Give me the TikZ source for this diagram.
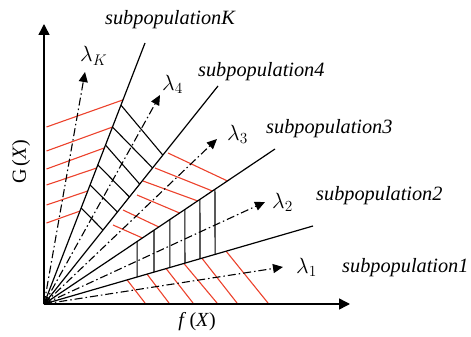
\RequirePackage{fix-cm}
\documentclass[tikz,border=0pt]{standalone}
\usepackage{fontspec}
\setmainfont{Liberation Serif}
\usetikzlibrary{arrows.meta,calc}
\definecolor{hred}{RGB}{236,66,44}
\begin{document}
\begin{tikzpicture}[x=1pt,y=-1pt,
  axis/.style={line width=1.5pt,-{Triangle[length=11pt,width=11pt]}},
  bound/.style={line width=1.2pt},
  hatchred/.style={hred,line width=1.1pt},
  hatchblk/.style={black,line width=1.1pt},
  dashdot/.style={line width=1.1pt,dash pattern=on 8pt off 3pt on 1.5pt off 3pt,-{Triangle[length=10pt,width=9pt]}},
  lab/.style={anchor=base west,inner sep=0pt,font=\fontsize{20.3}{24}\selectfont\itshape},
  lam/.style={anchor=base west,inner sep=0pt,font=\fontsize{22}{26}\selectfont}]
\useasboundingbox (0,0) rectangle (471,337);
\coordinate (O) at (44,304);
\coordinate (Ytip) at (44,24);
\coordinate (Xtip) at (350,304);
\coordinate (LK) at (145,43);
\coordinate (L4) at (218,86);
\coordinate (L3) at (275,149);
\coordinate (L2) at (313,226);
\coordinate (AK) at (85,72);
\coordinate (A4) at (160,95);
\coordinate (A3) at (217,139);
\coordinate (A2) at (265,202);
\coordinate (A1) at (283,267);
% hatching sector K (red)
\foreach \yl/\t in {127/0.782,151/0.678,169/0.598,185/0.521,205/0.433,223/0.356}
  \draw[hatchred] (46.5,\yl) -- ($(O)!\t!(LK)$);
% hatching sector 4 (black)
\foreach \t/\s in {0.762/0.683,0.678/0.624,0.609/0.550,0.533/0.491,0.456/0.422,0.368/0.339}
  \draw[hatchblk] ($(O)!\t!(LK)$) -- ($(O)!\s!(L4)$);
% hatching sector 3 (red)
\foreach \xs/\ys/\u in {168/153/0.794,155/168/0.729,143/181/0.665,137/195/0.587,123/210/0.497,113/225/0.426}
  \draw[hatchred] (\xs,\ys) -- ($(O)!\u!(L3)$);
% hatching sector 2 (black verticals)
\foreach \w/\v in {0.403/0.346,0.476/0.409,0.545/0.468,0.610/0.524,0.675/0.580,0.740/0.636}
  \draw[hatchblk] ($(O)!\w!(L3)$) -- ($(O)!\v!(L2)$);
% hatching sector 1 (red)
\foreach \v/\xb in {0.309/145,0.383/169,0.454/193,0.520/217,0.587/237,0.677/268}
  \draw[hatchred] ($(O)!\v!(L2)$) -- (\xb,303);
% boundaries
\draw[bound] (O) -- (LK);
\draw[bound] (O) -- (L4);
\draw[bound] (O) -- (L3);
\draw[bound] (O) -- (L2);
% direction vectors
\draw[dashdot] (O) -- (AK);
\draw[dashdot] (O) -- (A4);
\draw[dashdot] (O) -- (A3);
\draw[dashdot] (O) -- (A2);
\draw[dashdot] (O) -- (A1);
% axes
\draw[axis] (O) -- (Ytip);
\draw[axis] (O) -- (Xtip);
% labels
\node[lab] (sK) at (105,25) {subpopulationK};
\node[lab] (s4) at (198,77) {subpopulation4};
\node[lab] (s3) at (266,133) {subpopulation3};
\node[lab] (s2) at (316,200) {subpopulation2};
\node[lab] (s1) at (342,272) {subpopulation1};
\node[lam] (lK) at (80,62) {$\lambda_K$};
\node[lam] (l4) at (162,90) {$\lambda_4$};
\node[lam] (l3) at (227,140) {$\lambda_3$};
\node[lam] (l2) at (272,208) {$\lambda_2$};
\node[lam] (l1) at (296,273) {$\lambda_1$};
\node[font=\fontsize{20}{24}\selectfont,rotate=90] (gx) at (21,162) {G\,(\textit{X})};
\node[font=\fontsize{20}{24}\selectfont] (fx) at (197,322) {\textit{f}\,(\textit{X})};
\end{tikzpicture}
\end{document}
